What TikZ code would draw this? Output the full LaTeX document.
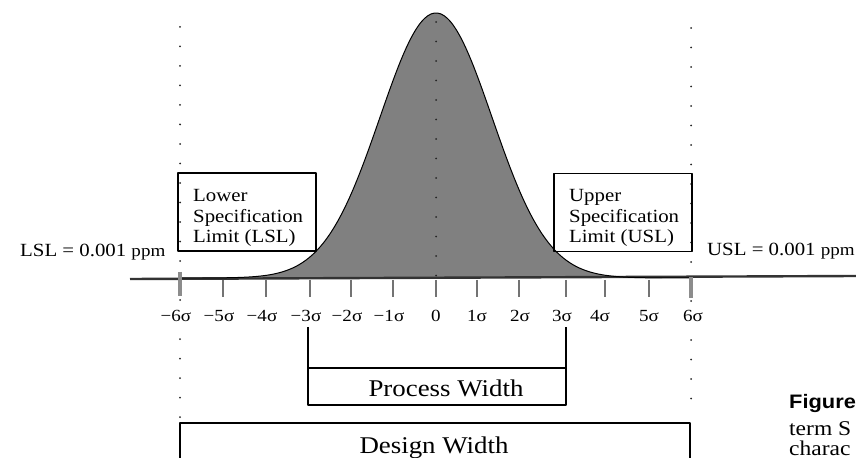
\documentclass[tikz,border=0pt]{standalone}
\usepackage{fontspec}
\setmainfont{Liberation Serif}[FakeStretch=1.12]
\newfontfamily\capsans{Liberation Sans}[FakeStretch=1.12]
\tikzset{
  dotline/.style={line width=2bp, dash pattern=on 0pt off 19.5bp, line cap=round, black!85},
  sigtick/.style={line width=1.3bp, black!55},
  endtick/.style={line width=4bp, black!45},
  siglab/.style={font=\fontsize{17bp}{18bp}\selectfont, anchor=base, inner sep=1bp, fill=white},
  limbox/.style={draw, line width=1.2bp, minimum width=138bp, minimum height=78bp, inner sep=0pt},
  limtext/.style={font=\fontsize{18.6bp}{20.6bp}\selectfont, align=left, anchor=north west, inner sep=0pt},
  widthlab/.style={font=\fontsize{24bp}{26bp}\selectfont, anchor=base, inner sep=0pt},
  captext/.style={anchor=base west, inner sep=0pt, font=\fontsize{21bp}{23bp}\selectfont},
}
\begin{document}
\begin{tikzpicture}[x=1bp,y=-1bp,line join=round]
\useasboundingbox (0,0) rectangle (856,458);
\clip (0,0) rectangle (856,458);
\draw[dotline] (180,27) -- (180,418);
\draw[dotline] (691,28) -- (691,418);
\fill[gray] (180,278) -- plot[domain=180:692,samples=160,smooth] (\x,{278-265*exp(-0.5*((\x-436)/56)^2)}) -- (692,278) -- cycle;
\draw[line width=2.4bp, black!80] (130,279) -- (856,276);
\draw[line width=1bp] plot[domain=180:692,samples=160,smooth] (\x,{278-265*exp(-0.5*((\x-436)/56)^2)});
\draw[dotline] (436,22) -- (436,278);
\foreach \t/\lx/\k in {223/219/−5σ,266/262/−4σ,310/306/−3σ,351/347/−2σ,393/389/−1σ,436/436/0,477/477/1σ,519/520/2σ,566/562/3σ,605/600/4σ,649/649/5σ} {
  \draw[sigtick] (\t,280) -- (\t,297);
  \node[siglab] (lab\t) at (\lx,322) {\k};
}
\draw[endtick] (180,272) -- (180,296);
\draw[endtick] (691,277) -- (691,298);
\node[siglab] (lab180) at (176,322) {−6σ};
\node[siglab] (lab691) at (693,322) {6σ};
\node[limbox] (lslbox) at (247,212) {};
\node[limtext] (lsltext) at (193,189.4) {Lower\\Specification\\Limit (LSL)};
\node[limbox] (uslbox) at (623,212.5) {};
\node[limtext] (usltext) at (569,189.4) {Upper\\Specification\\Limit (USL)};
\node[anchor=base west, inner sep=0pt, font=\fontsize{18.6bp}{20bp}\selectfont] (lsllev) at (20,257) {LSL = 0.001 {\fontsize{17bp}{18bp}\selectfont ppm}};
\node[anchor=base west, inner sep=0pt, font=\fontsize{18.6bp}{20bp}\selectfont] (usllev) at (707,256) {USL = 0.001 {\fontsize{17bp}{18bp}\selectfont ppm}};
\draw[line width=1.3bp] (308,327) -- (308,405) -- (566,405) -- (566,327);
\draw[line width=1.3bp] (308,368) -- (566,368);
\node[widthlab] (proc) at (446,396) {Process Width};
\draw[line width=1.3bp] (180,470) -- (180,423) -- (690,423) -- (690,470);
\node[widthlab] (design) at (434,453) {Design Width};
\node[captext, font=\capsans\bfseries\fontsize{19.5bp}{23bp}\selectfont] (fig) at (789,408) {Figure};
\node[captext] (capa) at (789,435) {term S};
\node[captext] (capb) at (789,455) {charac};
\end{tikzpicture}
\end{document}
